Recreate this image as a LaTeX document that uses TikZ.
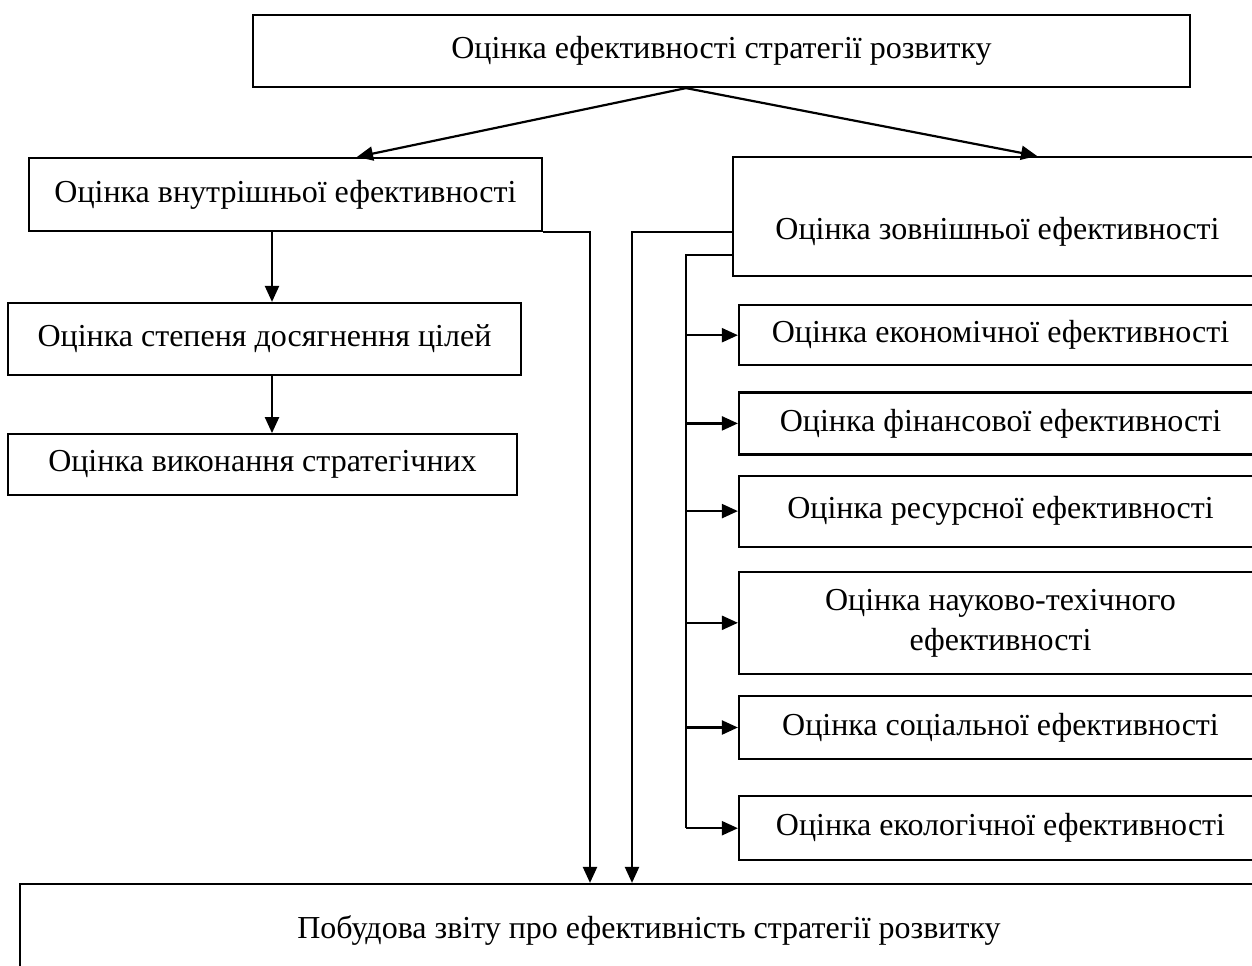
\documentclass[tikz,border=0pt]{standalone}
\usepackage{fontspec}
\setmainfont{Liberation Serif}
\usetikzlibrary{positioning,arrows.meta}

\begin{document}
\begin{tikzpicture}[
    x=0.5pt, y=-0.5pt,
    font=\fontsize{16}{20}\selectfont,
    eval_box/.style={draw, line width=1.1pt, inner sep=4pt, align=center},
    side_box/.style={eval_box, minimum width=261.5pt},
    arrow/.style={-{Triangle[length=8pt,width=7pt]}, line width=1.1pt},
    link/.style={line width=1.1pt}
]
\useasboundingbox (0,0) rectangle (1252,965);
\clip (0,0) rectangle (1252,965);

% Nodes
\node (main) [eval_box, minimum width=468.5pt, minimum height=36pt] at (721.5,51) {Оцінка ефективності стратегії розвитку};

\node (inner) [eval_box, minimum width=256.5pt, minimum height=36.5pt] at (285.5,194.5) {Оцінка внутрішньої ефективності};

\node (outer) [eval_box, minimum width=264.5pt, minimum height=59.5pt, text height=26pt] at (997.5,216.5) {Оцінка зовнішньої ефективності};

\node (goals) [eval_box, minimum width=256.5pt, minimum height=36pt] at (264.5,339) {Оцінка степеня досягнення цілей};

\node (implement) [eval_box, minimum width=254.5pt, minimum height=30.5pt, below right=28.5pt and 0pt of goals.south west] {Оцінка виконання стратегічних};

\node (econ) [side_box, minimum height=30pt, below left=13.5pt and 0pt of outer.south east] {Оцінка економічної ефективності};
\node (fin) [side_box, minimum height=31pt, below=12.5pt of econ] {Оцінка фінансової ефективності};
\node (res) [side_box, minimum height=35.5pt, below=9.5pt of fin] {Оцінка ресурсної ефективності};
\node (sci) [side_box, minimum height=51pt, below=11.5pt of res] {Оцінка науково-техічного\\ефективності};
\node (soc) [side_box, minimum height=31.5pt, below=10pt of sci] {Оцінка соціальної ефективності};
\node (eco) [side_box, minimum height=32pt, below=17.5pt of soc] {Оцінка екологічної ефективності};

\node (report) [eval_box, minimum width=629pt, minimum height=46pt] at (649,930) {Побудова звіту про ефективність стратегії розвитку};

% Lanes
\coordinate (fork) at ([xshift=-17.75pt]main.south);
\coordinate (lane_l) at (272,0);
\coordinate (lane_a) at (590,0);
\coordinate (lane_b) at (632,0);
\coordinate (bus) at (686,0);

% Connections
\draw [arrow] (fork) -- ([xshift=35.75pt]inner.north);
\draw [arrow] (fork) -- ([xshift=19.75pt]outer.north);
\draw [arrow] (inner.south -| lane_l) -- (goals.north -| lane_l);
\draw [arrow] (goals.south -| lane_l) -- (implement.north -| lane_l);
\draw [arrow] (inner.south east) -| (report.north -| lane_a);
\draw [arrow] ([yshift=-7.75pt]outer.west) -| (report.north -| lane_b);
\draw [link] ([yshift=-19.25pt]outer.west) -| (bus |- eco.west);
\foreach \b in {econ,fin,res,sci,soc,eco}
  \draw [arrow] (bus |- \b.west) -- (\b.west);

\end{tikzpicture}
\end{document}
